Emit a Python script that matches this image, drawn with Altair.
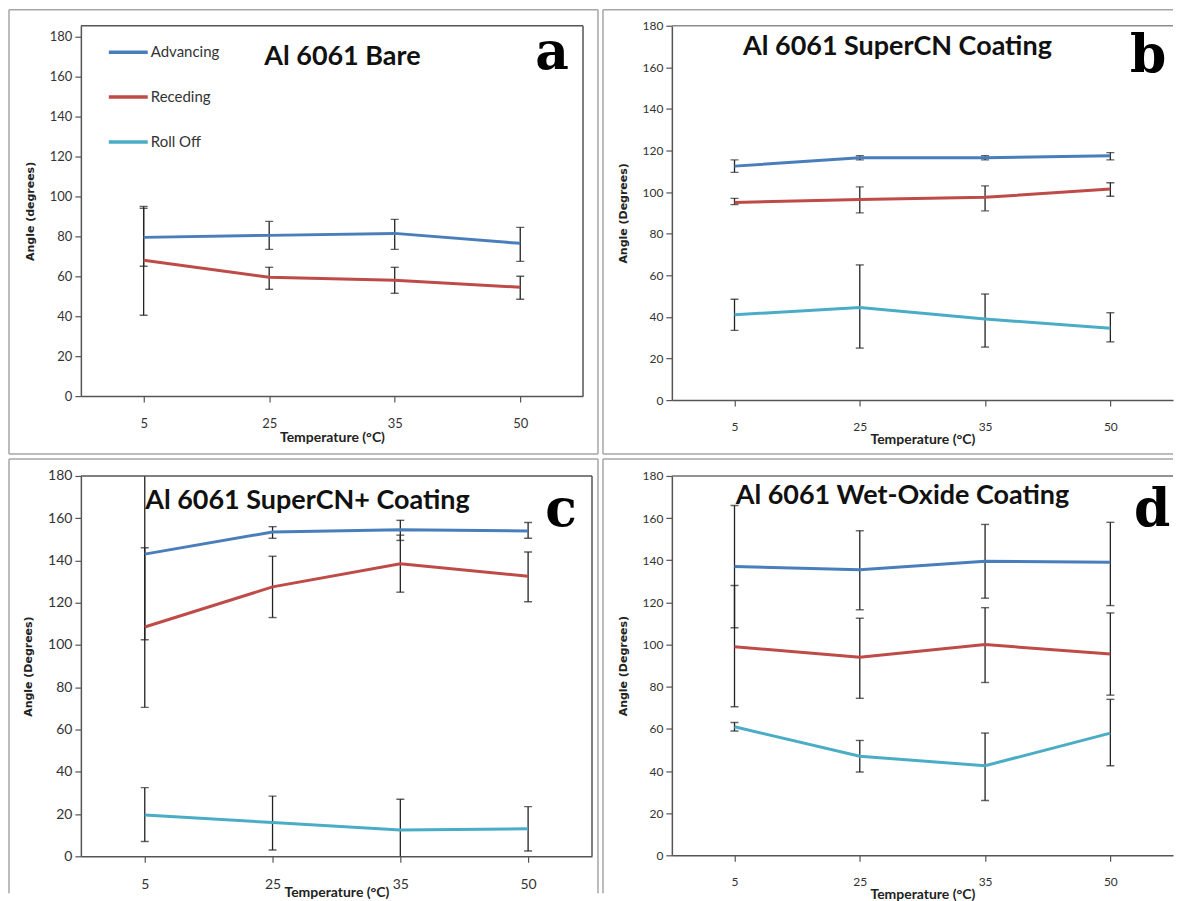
import altair as alt
import pandas as pd

temps = ["5", "25", "35", "50"]
series_names = ["Advancing", "Receding", "Roll Off"]
series_colors = ["#4a7ebb", "#be4b48", "#4bacc6"]

# Panel a : Al 6061 Bare
a_adv = [79.5, 80.5, 81.5, 76.5]
a_adv_lo = [65, 73.5, 73.5, 67.5]
a_adv_hi = [94, 87.5, 88.5, 84.5]
a_rec = [68, 59.5, 58, 54.5]
a_rec_lo = [40.5, 53.5, 51.5, 48.5]
a_rec_hi = [95, 64.5, 64.5, 60]

# Panel b : Al 6061 SuperCN Coating
b_adv = [112.5, 116.5, 116.5, 117.5]
b_adv_lo = [109.5, 115.5, 115.5, 115.5]
b_adv_hi = [115.5, 117.5, 117.5, 119]
b_rec = [95, 96.5, 97.5, 101.5]
b_rec_lo = [94, 90, 91, 98]
b_rec_hi = [97, 102.5, 103, 104.5]
b_roll = [41, 44.5, 39, 34.5]
b_roll_lo = [33.5, 25, 25.5, 28]
b_roll_hi = [48.5, 65, 51, 42]

# Panel c : Al 6061 SuperCN+ Coating
c_adv = [143, 153.5, 154.5, 154]
c_adv_lo = [102.5, 150.5, 149.5, 150.5]
c_adv_hi = [184, 156, 159, 158]
c_rec = [108.5, 127.5, 138.5, 132.5]
c_rec_lo = [70.5, 113, 125, 120.5]
c_rec_hi = [146, 142, 152, 144]
c_roll = [19.5, 16, 12.5, 13]
c_roll_lo = [7, 3, -2.5, 2.5]
c_roll_hi = [32.5, 28.5, 27, 23.5]

# Panel d : Al 6061 Wet-Oxide Coating
d_adv = [137, 135.5, 139.5, 139]
d_adv_lo = [108, 116.5, 122, 118.5]
d_adv_hi = [166, 154, 157, 158]
d_rec = [99, 94, 100, 95.5]
d_rec_lo = [70.5, 74.5, 82, 76]
d_rec_hi = [128, 112.5, 117.5, 115]
d_roll = [61, 47, 42.5, 58]
d_roll_lo = [59, 39.5, 26, 42.5]
d_roll_hi = [63, 54.5, 58, 74]

y_ticks = [0, 20, 40, 60, 80, 100, 120, 140, 160, 180]

ONE = pd.DataFrame({"k": [0]})
FRAME = "#a6a6a6"
PLOTBORDER = "#555555"


def build_df(series):
    rows = []
    for name, mean, lo, hi in series:
        for t, m, l, h in zip(temps, mean, lo, hi):
            rows.append({"temp": t, "series": name, "mean": m, "lo": l, "hi": h})
    return pd.DataFrame(rows)


def hrule(x, x2, y, color, w):
    return alt.Chart(ONE).mark_rule(color=color, strokeWidth=w).encode(
        x=alt.value(x), x2=alt.value(x2), y=alt.value(y))


def vrule(x, y, y2, color, w):
    return alt.Chart(ONE).mark_rule(color=color, strokeWidth=w).encode(
        x=alt.value(x), y=alt.value(y), y2=alt.value(y2))


def panel(series, ymax, width, height, title, title_xy, letter, letter_xy,
          ytitle, frames, borders, show_legend=False, label_size=13,
          xtitle_pad=0):
    df = build_df(series)
    xenc = alt.X("temp:O", sort=temps,
                 scale=alt.Scale(type="point", padding=0.5),
                 axis=alt.Axis(title="Temperature (°C)", labelAngle=0,
                               labelPadding=15, tickSize=6,
                               labelFont="Lato", labelFontSize=label_size,
                               labelColor="#333333",
                               titleFont="Lato", titleFontSize=14,
                               titleFontWeight="bold", titleColor="#222222",
                               titlePadding=xtitle_pad,
                               domainColor=PLOTBORDER, domainWidth=1.5,
                               tickColor=PLOTBORDER, tickWidth=1.2,
                               grid=False))
    yscale = alt.Scale(domain=[0, ymax], nice=False, zero=True)
    yaxis = alt.Axis(title=ytitle, values=y_ticks, format="d",
                     tickSize=6, labelPadding=3,
                     labelFont="Lato", labelFontSize=label_size,
                     labelColor="#333333",
                     titleFont="DejaVu Sans", titleFontSize=11,
                     titleFontWeight="bold", titleColor="#222222",
                     titlePadding=14,
                     domainColor=PLOTBORDER, domainWidth=1.5,
                     tickColor=PLOTBORDER, tickWidth=1.2, grid=False)

    legend = None
    if show_legend:
        legend = alt.Legend(title=None, orient="none", legendX=26, legendY=5,
                            symbolType="stroke", symbolSize=1521,
                            symbolStrokeWidth=3.5, labelOffset=1,
                            labelFont="Lato", labelFontSize=15,
                            labelColor="#333333", rowPadding=15, padding=0)
    color = alt.Color("series:N",
                      scale=alt.Scale(domain=series_names, range=series_colors),
                      legend=legend)

    err = alt.Chart(df).mark_rule(color="#222222", strokeWidth=1.3, clip=True).encode(
        x=xenc, y=alt.Y("lo:Q", scale=yscale, axis=yaxis), y2="hi:Q",
        detail="series:N")
    caps = alt.Chart(df).transform_fold(["lo", "hi"], as_=["end", "val"]).mark_tick(
        color="#222222", size=8, thickness=1.4, orient="horizontal", clip=True).encode(
        x=xenc, y=alt.Y("val:Q", scale=yscale, axis=yaxis), detail="series:N")
    lines = alt.Chart(df).mark_line(strokeWidth=3).encode(
        x=xenc, y=alt.Y("mean:Q", scale=yscale, axis=yaxis), color=color)

    ttl = alt.Chart(ONE).mark_text(font="Lato", fontSize=27, fontWeight="bold",
                                   align="center", baseline="alphabetic",
                                   color="#111111").encode(
        x=alt.value(title_xy[0]), y=alt.value(title_xy[1]), text=alt.value(title))
    let = alt.Chart(ONE).mark_text(font="DejaVu Serif", fontSize=52, fontWeight="bold",
                                   align="center", baseline="alphabetic",
                                   color="#000000").encode(
        x=alt.value(letter_xy[0]), y=alt.value(letter_xy[1]), text=alt.value(letter))

    layers = [err, caps, lines, ttl, let]
    layers += frames
    layers += borders
    return alt.layer(*layers).properties(width=width, height=height)


# view sizes
WA, HA = 503, 371
WB, HB = 502, 375
WC, HC = 512, 381
WD, HD = 502, 380

pa = panel(
    [("Advancing", a_adv, a_adv_lo, a_adv_hi), ("Receding", a_rec, a_rec_lo, a_rec_hi)],
    185.5, WA, HA, "Al 6061 Bare", (262, 39), "a", (472, 43), "Angle (degrees)",
    frames=[hrule(-72, 518, -16, FRAME, 1.5), hrule(-72, 518, 429, FRAME, 1.5),
            vrule(-72, -16, 429, FRAME, 1.5), vrule(518, -16, 429, FRAME, 1.5)],
    borders=[hrule(0, WA, 0, PLOTBORDER, 1.5), vrule(WA, 0, HA, PLOTBORDER, 1.5)],
    show_legend=True)

pb = panel(
    [("Advancing", b_adv, b_adv_lo, b_adv_hi), ("Receding", b_rec, b_rec_lo, b_rec_hi),
     ("Roll Off", b_roll, b_roll_lo, b_roll_hi)],
    180, WB, HB, "Al 6061 SuperCN Coating", (226, 29), "b", (477, 46), "Angle (Degrees)",
    frames=[hrule(-69, WB, -16, FRAME, 1.5), hrule(-69, WB, 429, FRAME, 1.5),
            vrule(-69, -16, 429, FRAME, 1.5)],
    borders=[hrule(0, WB, 0, "#8c8c8c", 1.5)], label_size=12)

pc = panel(
    [("Advancing", c_adv, c_adv_lo, c_adv_hi), ("Receding", c_rec, c_rec_lo, c_rec_hi),
     ("Roll Off", c_roll, c_roll_lo, c_roll_hi)],
    180, WC, HC, "Al 6061 SuperCN+ Coating", (227, 33), "c", (481, 50), "Angle (Degrees)",
    frames=[hrule(-72, 518, -17, FRAME, 1.5),
            vrule(-72, -17, 418, FRAME, 1.5), vrule(518, -17, 418, FRAME, 1.5)],
    borders=[hrule(0, WC, 0, PLOTBORDER, 1.5), vrule(WC, 0, HC, PLOTBORDER, 1.5)],
    label_size=14, xtitle_pad=-6)

pd_ = panel(
    [("Advancing", d_adv, d_adv_lo, d_adv_hi), ("Receding", d_rec, d_rec_lo, d_rec_hi),
     ("Roll Off", d_roll, d_roll_lo, d_roll_hi)],
    180, WD, HD, "Al 6061 Wet-Oxide Coating", (231, 28), "d", (481, 50), "Angle (Degrees)",
    frames=[hrule(-69, WD, -17, FRAME, 1.5), vrule(-69, -17, 418, FRAME, 1.5)],
    borders=[hrule(0, WD, 0, "#6e6e6e", 1.5)], label_size=12)

chart = alt.concat(pa, pb, pc, pd_, columns=2,
                   spacing={"row": 76, "column": 80}).properties(
    bounds="flush", padding=0, background="white"
).resolve_scale(x="independent", y="independent", color="independent"
).resolve_legend(color="independent").configure_view(stroke=None)

chart.save("out.html", embed_options={"renderer": "svg", "actions": False})
